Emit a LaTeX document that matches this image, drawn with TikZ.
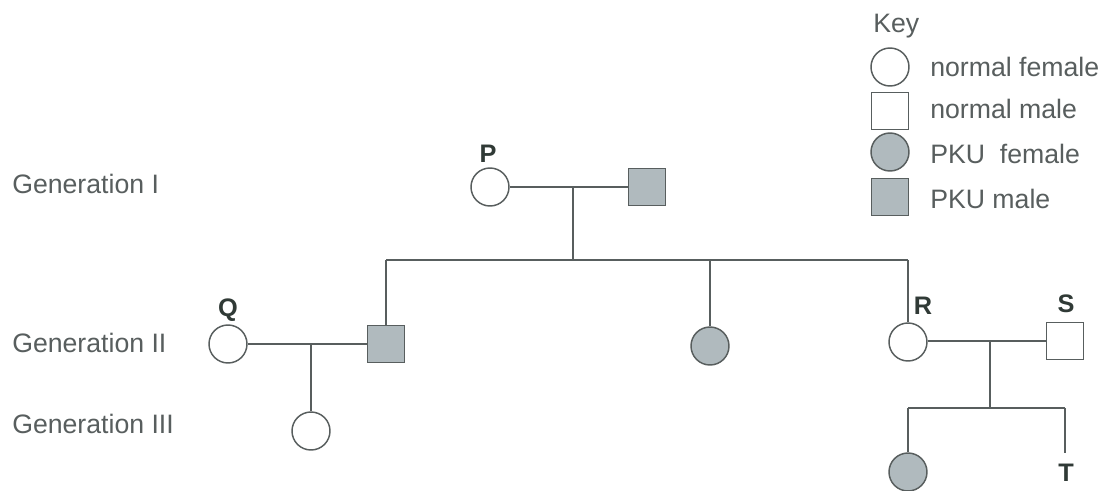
\documentclass[tikz,border=0pt]{standalone}
\usepackage{fontspec}
\setmainfont{Liberation Sans}
\definecolor{ink}{RGB}{88,94,94}
\definecolor{pku}{RGB}{176,186,190}
\definecolor{lbl}{RGB}{48,58,54}
\begin{document}
\begin{tikzpicture}[x=0.75pt,y=-0.75pt,
  line/.style={draw=ink,line width=1.1pt},
  fem/.style={circle,draw=ink,line width=1.1pt,minimum size=28.5pt,inner sep=0pt,fill=white},
  mal/.style={rectangle,draw=ink,line width=1.1pt,minimum size=28pt,inner sep=0pt,fill=white},
  aff/.style={fill=pku},
  txt/.style={text=ink,font=\fontsize{20}{22}\selectfont,inner sep=0pt,anchor=base west},
  tag/.style={text=lbl,font=\fontsize{19}{22}\selectfont\bfseries,inner sep=0pt}]
\useasboundingbox[fill=white] (0,0) rectangle (1111,490);

% generation labels
\node[txt] (g1) at (12,193) {Generation I};
\node[txt] (g2) at (12,352) {Generation II};
\node[txt] (g3) at (12,433) {Generation III};

% key
\node[txt] (key) at (873,32) {Key};
\node[fem] (k1) at (890,67) {};
\node[mal] (k2) at (890,111) {};
\node[fem,aff] (k3) at (890,152) {};
\node[mal,aff] (k4) at (890,197) {};
\node[txt] (k1t) at (930,76) {normal female};
\node[txt] (k2t) at (930,118) {normal male};
\node[txt] (k3t) at (930,163) {PKU\ \ female};
\node[txt] (k4t) at (930,208) {PKU male};

% generation I
\node[fem] (P) at (490,187) {};
\node[mal,aff] (I2) at (647,187) {};
\node[tag] (Pl) at (488,154) {P};
\coordinate (m1) at (573,187);
\coordinate (s1) at (573,260);
\coordinate (sL) at (386,260);
\coordinate (sM) at (710,260);
\coordinate (sR) at (908,260);

% generation II
\node[fem] (Q) at (228,344) {};
\node[tag] (Ql) at (228,310) {Q};
\node[mal,aff] (II1) at (386,344) {};
\node[fem,aff] (II2) at (710,346) {};
\node[fem] (R) at (908,342) {};
\node[tag] (Rl) at (923,306) {R};
\node[mal] (S) at (1065,341) {};
\node[tag] (Sl) at (1066,304) {S};
\coordinate (m2) at (311,344);
\coordinate (m3) at (990,341);
\coordinate (s3) at (990,408);
\coordinate (s3L) at (908,408);
\coordinate (s3R) at (1065,408);
\coordinate (Tend) at (1065,453);

% generation III
\node[fem] (III1) at (311,431) {};
\node[fem,aff] (III2) at (908,472) {};
\node[tag] (Tl) at (1066,473) {T};

% connectors
\draw[line] (P) -- (I2);
\draw[line] (m1) -- (s1);
\draw[line] (sL) -- (sR);
\draw[line] (sL) -- (II1);
\draw[line] (sM) -- (II2);
\draw[line] (sR) -- (R);
\draw[line] (Q) -- (II1);
\draw[line] (m2) -- (III1);
\draw[line] (R.east |- S) -- (S);
\draw[line] (m3) -- (s3);
\draw[line] (s3L) -- (s3R);
\draw[line] (s3L) -- (III2);
\draw[line] (s3R) -- (Tend);
\end{tikzpicture}
\end{document}
